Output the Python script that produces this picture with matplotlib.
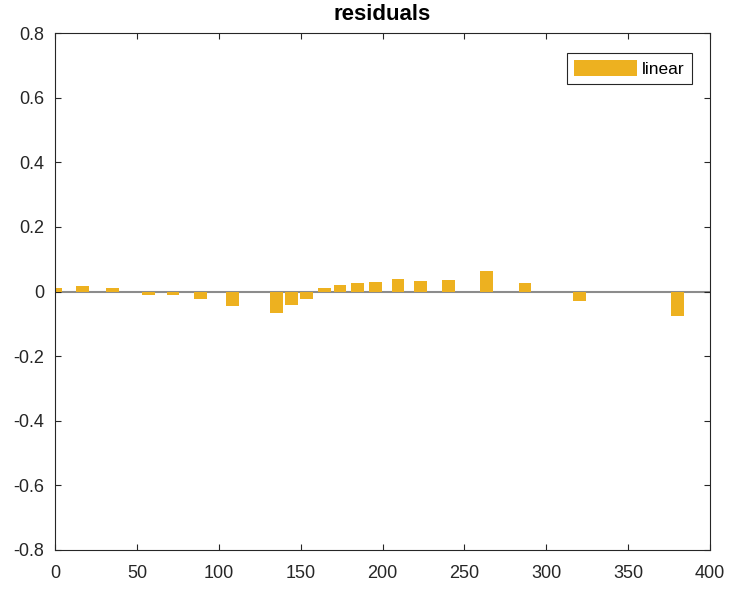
import matplotlib.pyplot as plt

# residual positions and values
x_pos = [0.6, 16.6, 35.0, 57.2, 72.1, 88.7, 108.4, 135.2, 144.2, 153.5, 164.5,
         174.0, 184.7, 195.9, 209.4, 223.1, 240.4, 263.5, 287.0, 320.3, 380.3]
resid = [0.011, 0.018, 0.012, -0.012, -0.012, -0.023, -0.046, -0.065, -0.041,
         -0.022, 0.011, 0.019, 0.027, 0.030, 0.040, 0.034, 0.036, 0.062, 0.026,
         -0.028, -0.077]

plt.rcParams['font.family'] = ['Liberation Sans', 'DejaVu Sans']

fig = plt.figure(figsize=(7.3, 5.9), dpi=100)
ax = fig.add_axes([55/730, 1 - 550/590, 655/730, 517/590])

ax.axhline(0, color='#8c8c8c', lw=1.5, zorder=1)
ax.bar(x_pos, resid, width=7.8, color='#EDB120', label='linear', zorder=2)

ax.set_xlim(0, 400)
ax.set_ylim(-0.8, 0.8)
ax.set_xticks(range(0, 401, 50))
ax.set_yticks([-0.8, -0.6, -0.4, -0.2, 0, 0.2, 0.4, 0.6, 0.8])
ax.set_yticklabels(['-0.8', '-0.6', '-0.4', '-0.2', '0', '0.2', '0.4', '0.6', '0.8'])
ax.tick_params(direction='in', top=True, right=True, labelsize=13, length=4.5,
               color='#262626', labelcolor='#262626')
ax.tick_params(axis='x', pad=10.5)
ax.tick_params(axis='y', pad=8)
for s in ax.spines.values():
    s.set_color('#262626')
    s.set_linewidth(0.8)

ax.set_title('residuals', fontsize=16, fontweight='bold', pad=9)

leg = ax.legend(loc='upper right', bbox_to_anchor=(0.972, 0.961), fontsize=12.5,
                fancybox=False, framealpha=1, edgecolor='#262626',
                handlelength=3.6, handleheight=1.0, borderpad=0.42,
                handletextpad=0.3, borderaxespad=0)
leg.get_frame().set_linewidth(0.8)

plt.savefig('out.png', dpi=100)
plt.close()
